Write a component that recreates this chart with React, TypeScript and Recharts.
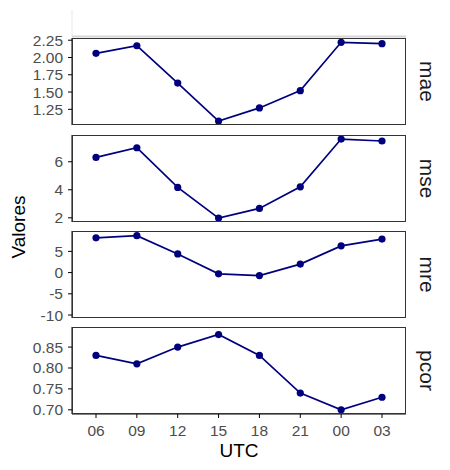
import React from 'react';
import { LineChart, Line, XAxis, YAxis } from 'recharts';

const utcLabels = ['06', '09', '12', '15', '18', '21', '00', '03'];
const maeValues = [2.06, 2.17, 1.63, 1.08, 1.27, 1.52, 2.22, 2.2];
const mseValues = [6.31, 7.0, 4.17, 1.98, 2.67, 4.21, 7.62, 7.48];
const mreValues = [8.2, 8.7, 4.4, -0.3, -0.7, 2.0, 6.3, 7.9];
const pcorValues = [0.83, 0.81, 0.85, 0.88, 0.83, 0.74, 0.7, 0.73];

const maeTicks = [1.25, 1.5, 1.75, 2.0, 2.25];
const mseTicks = [2, 4, 6];
const mreTicks = [-10, -5, 0, 5];
const pcorTicks = [0.7, 0.75, 0.8, 0.85];

const FONT = '"Liberation Sans", Arial, Helvetica, sans-serif';
const LINE_COLOR = '#00007F';
const PANEL_LEFT = 72;
const PANEL_RIGHT = 406;
const PANEL_H = 87;

const makeRows = (values: number[]) => utcLabels.map((utc, i) => ({ utc, v: values[i] }));

const panels = [
  { name: 'mae', values: maeValues, ticks: maeTicks, domain: [1.023, 2.282], fmt: (v: number) => v.toFixed(2), top: 38 },
  { name: 'mse', values: mseValues, ticks: mseTicks, domain: [1.7, 7.91], fmt: (v: number) => String(v), top: 135 },
  { name: 'mre', values: mreValues, ticks: mreTicks, domain: [-10.7, 9.8], fmt: (v: number) => String(v), top: 231 },
  { name: 'pcor', values: pcorValues, ticks: pcorTicks, domain: [0.69, 0.898], fmt: (v: number) => v.toFixed(2), top: 327 },
];

export default function App() {
  return (
    <div style={{ position: 'absolute', left: 0, top: 0, width: 450, height: 470, fontFamily: FONT, background: '#fff' }}>
      {panels.map((p, idx) => {
        const last = idx === panels.length - 1;
        const h = last ? 5 + PANEL_H + 30 : 5 + PANEL_H + 5;
        return (
          <div key={p.name} style={{ position: 'absolute', left: 0, top: p.top - 5, width: 450, height: h }}>
            <LineChart
              width={450}
              height={h}
              data={makeRows(p.values)}
              margin={{ top: 5, right: 450 - PANEL_RIGHT, bottom: last ? 0 : 5, left: 0 }}
            >
              <XAxis
                dataKey="utc"
                hide={!last}
                height={30}
                padding={{ left: 24, right: 24 }}
                tickSize={4}
                tickMargin={7}
                tick={{ fontSize: 15.5, fill: '#4D4D4D', fontFamily: FONT }}
                axisLine={{ stroke: '#000' }}
                tickLine={{ stroke: '#000' }}
                interval={0}
              />
              <YAxis
                width={PANEL_LEFT}
                domain={p.domain}
                ticks={p.ticks}
                allowDataOverflow
                tickFormatter={p.fmt}
                tickSize={4}
                tickMargin={5}
                tick={{ fontSize: 15.5, fill: '#4D4D4D', fontFamily: FONT }}
                axisLine={{ stroke: '#000' }}
                tickLine={{ stroke: '#000' }}
                interval={0}
              />
              <Line
                type="linear"
                dataKey="v"
                stroke={LINE_COLOR}
                strokeWidth={1.7}
                dot={{ r: 3.6, fill: LINE_COLOR, stroke: LINE_COLOR, strokeWidth: 0 }}
                isAnimationActive={false}
              />
            </LineChart>
          </div>
        );
      })}
      {panels.map((p) => (
        <div
          key={p.name + '-border'}
          style={{
            position: 'absolute',
            left: PANEL_LEFT - 0.5,
            top: p.top,
            width: PANEL_RIGHT - PANEL_LEFT + 0.5,
            height: PANEL_H,
            boxSizing: 'border-box',
            border: '1px solid #333',
            pointerEvents: 'none',
          }}
        />
      ))}
      <svg
        width={450}
        height={470}
        style={{ position: 'absolute', left: 0, top: 0, pointerEvents: 'none', fontFamily: FONT }}
      >
        <line x1={72} y1={10} x2={72} y2={37} stroke="#e8e8e8" strokeWidth={1} />
        <rect x={72} y={35.5} width={334} height={2} fill="#d6d6d6" />
        <text x={25} y={227} transform="rotate(-90 25 227)" textAnchor="middle" fontSize={19} fill="#000">
          Valores
        </text>
        <text x={239} y={457} textAnchor="middle" fontSize={19} fill="#000">
          UTC
        </text>
        {panels.map((p) => {
          const cy = p.top + PANEL_H / 2;
          return (
            <text
              key={p.name + '-strip'}
              x={420}
              y={cy}
              transform={`rotate(90 420 ${cy})`}
              textAnchor="middle"
              fontSize={21}
              fill="#1A1A1A"
            >
              {p.name}
            </text>
          );
        })}
      </svg>
    </div>
  );
}
